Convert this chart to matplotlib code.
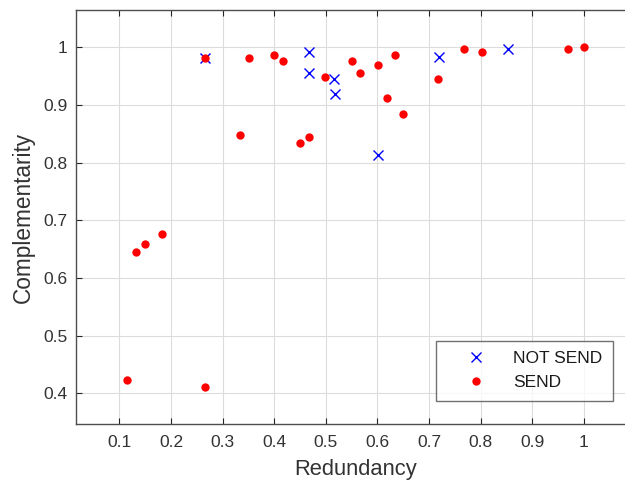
import matplotlib
matplotlib.use("Agg")
import matplotlib.pyplot as plt

send_x = [0.265, 0.351, 0.399, 0.417, 0.499, 0.551, 0.566, 0.334, 0.450, 0.468,
          0.183, 0.602, 0.634, 0.619, 0.650, 0.718, 0.767, 0.802, 0.969, 1.000,
          0.132, 0.149, 0.114, 0.265]
send_y = [0.982, 0.982, 0.987, 0.977, 0.949, 0.977, 0.955, 0.849, 0.834, 0.845,
          0.676, 0.970, 0.987, 0.913, 0.885, 0.946, 0.997, 0.992, 0.997, 1.000,
          0.645, 0.659, 0.424, 0.412]

notsend_x = [0.265, 0.468, 0.467, 0.516, 0.517, 0.602, 0.719, 0.853]
notsend_y = [0.982, 0.992, 0.955, 0.946, 0.920, 0.814, 0.984, 0.997]

xticks = [0.1, 0.2, 0.3, 0.4, 0.5, 0.6, 0.7, 0.8, 0.9, 1.0]
xticklabels = ["0.1", "0.2", "0.3", "0.4", "0.5", "0.6", "0.7", "0.8", "0.9", "1"]
yticks = [0.4, 0.5, 0.6, 0.7, 0.8, 0.9, 1.0]
yticklabels = ["0.4", "0.5", "0.6", "0.7", "0.8", "0.9", "1"]

plt.rcParams['font.family'] = ['Liberation Sans', 'DejaVu Sans']
axcol = '#262626'

fig = plt.figure(figsize=(6.25, 4.83), dpi=100)
W, H = 625, 483
left, right, top, bottom = 76, 636, 10, 424
ax = fig.add_axes([left / W, 1 - bottom / H, (right - left) / W, (bottom - top) / H])

ax.plot(notsend_x, notsend_y, linestyle='none', marker='x', color='#0000ff',
        markersize=7.5, markeredgewidth=1.0, label='NOT SEND', zorder=3)
ax.plot(send_x, send_y, linestyle='none', marker='o', color='#ff0000',
        markersize=6.0, markeredgewidth=0, label='SEND', zorder=3)

ax.set_xlim(0.016, 1.101)
ax.set_ylim(0.347, 1.065)
ax.set_xticks(xticks)
ax.set_xticklabels(xticklabels)
ax.set_yticks(yticks)
ax.set_yticklabels(yticklabels)

ax.grid(True, color='#dcdcdc', linewidth=0.8)
ax.set_axisbelow(True)
ax.tick_params(direction='in', top=True, right=False, length=4, width=0.8,
               colors=axcol, labelsize=12.5, labelcolor='#333333')
ax.tick_params(axis='x', pad=8)
ax.tick_params(axis='y', pad=6)
for s in ['left', 'bottom', 'top']:
    ax.spines[s].set_color('#4d4d4d')
    ax.spines[s].set_linewidth(1.0)
ax.spines['right'].set_visible(False)

ax.set_xlabel('Redundancy', fontsize=15.8, color='#333333')
ax.set_ylabel('Complementarity', fontsize=16.3, color='#333333')
ax.xaxis.set_label_coords(0.5, (424 - 459) / 414)
ax.yaxis.set_label_coords((35 - 76) / 560, 0.5)

leg = ax.legend(loc='lower right', bbox_to_anchor=(612.7 / W, 1 - 400.7 / H),
                bbox_transform=fig.transFigure, fontsize=12.5, frameon=True,
                fancybox=False, edgecolor='#4d4d4d', handletextpad=0.41,
                handlelength=3.4, borderpad=0.6, labelspacing=0.5,
                borderaxespad=0)
leg.get_frame().set_linewidth(1.0)
for t in leg.get_texts():
    t.set_color('#1a1a1a')

fig.savefig('out.png', dpi=100)
